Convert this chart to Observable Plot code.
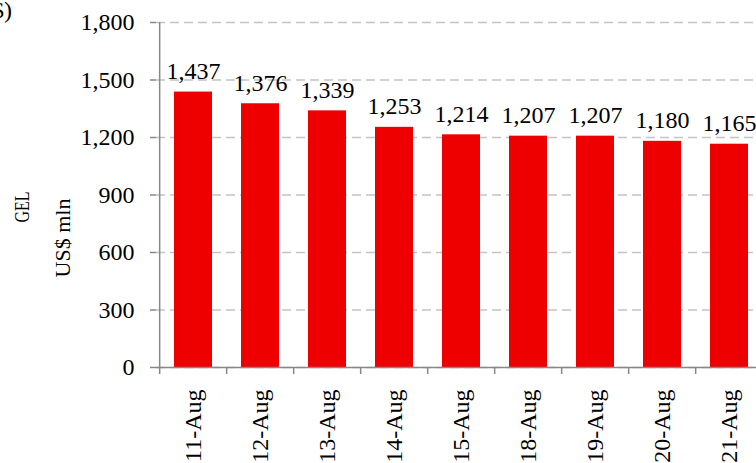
<!DOCTYPE html>
<html>
<head>
<meta charset="utf-8">
<script src="https://cdn.jsdelivr.net/npm/d3@7"></script>
<script src="https://cdn.jsdelivr.net/npm/@observablehq/plot@0.6"></script>
<style>
  html, body { margin: 0; padding: 0; background: white; overflow: hidden; }
  #wrap { position: relative; width: 756px; height: 463px; overflow: hidden; }
  #corner { position: absolute; right: 744px; top: -3px; font: 24px "Liberation Serif", serif; color: #000; white-space: nowrap; }
  #gel { position: absolute; left: 22px; top: 207px; font: 21px "Liberation Serif", serif; transform: translate(-50%, -50%) rotate(-90deg) scaleX(0.76); white-space: nowrap; }
  #usd { position: absolute; left: 63px; top: 238px; font: 22px "Liberation Serif", serif; transform: translate(-50%, -50%) rotate(-90deg); white-space: nowrap; }
</style>
</head>
<body>
<div id="wrap">
  <div id="corner">(GEL/US$)</div>
  <div id="gel">GEL</div>
  <div id="usd">US$ mln</div>
</div>
<script>
const dates = ["11-Aug", "12-Aug", "13-Aug", "14-Aug", "15-Aug", "18-Aug", "19-Aug", "20-Aug", "21-Aug"];
const values = [1437, 1376, 1339, 1253, 1214, 1207, 1207, 1180, 1165];
const yTicks = [0, 300, 600, 900, 1200, 1500, 1800];

const data = dates.map((d, i) => ({date: d, value: values[i]}));
const fmt = d3.format(",.0f");
const step = (765 - 156) / dates.length;

const chart = Plot.plot({
  width: 756,
  height: 463,
  marginLeft: 156,
  marginRight: 0,
  marginTop: 22,
  marginBottom: 96,
  style: {fontFamily: "'Liberation Serif', serif", fontSize: "24px", color: "#000", background: "white"},
  x: {domain: dates, range: [156, 765], paddingInner: 0.44, paddingOuter: 0.22, label: null},
  y: {domain: [0, 1800], range: [367, 22], label: null},
  marks: [
    Plot.gridY(yTicks, {stroke: "#c4c4c4", strokeOpacity: 1, strokeWidth: 1.5, strokeDasharray: "9,5"}),
    Plot.barY(data, {x: "date", y: "value", fill: "#ee0000"}),
    Plot.text(data, {x: "date", y: "value", text: d => fmt(d.value), lineAnchor: "bottom", dy: -13, fill: "#000"}),
    Plot.ruleY([0], {stroke: "#888888", strokeWidth: 1.5}),
    Plot.ruleX([dates[0]], {y1: 0, y2: 1800, dx: -step / 2, stroke: "#888888", strokeWidth: 1.5}),
    Plot.axisY({ticks: yTicks, tickFormat: fmt, tickSize: 6, tickPadding: 16, stroke: "#888888", strokeWidth: 1.5, label: null}),
    Plot.axisX({tickSize: 0, tickRotate: -90, tickPadding: 22, label: null}),
    Plot.axisX({tickSize: 7, text: null, dx: -step / 2, stroke: "#888888", strokeWidth: 1.5, label: null})
  ]
});
document.getElementById("wrap").prepend(chart);
</script>
</body>
</html>
